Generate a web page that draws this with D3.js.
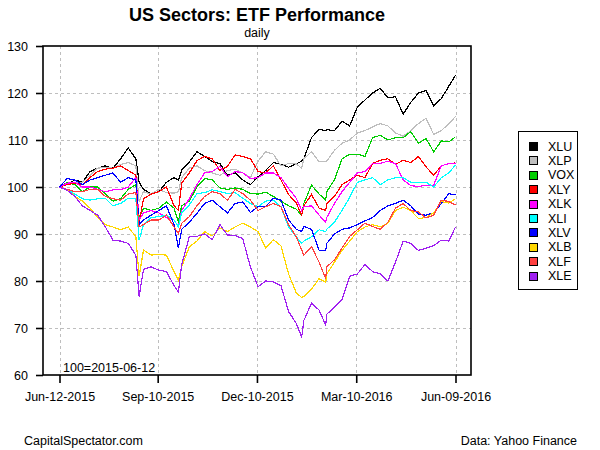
<!DOCTYPE html>
<html><head><meta charset="utf-8">
<script src="https://cdn.jsdelivr.net/npm/d3@7"></script>
<style>body{margin:0;background:#fff;} svg{display:block;font-family:"Liberation Sans",Arial,sans-serif;}</style>
</head><body><svg id="c" width="600" height="450"></svg>
<script>
const dates = ["2015-06-12","2015-06-19","2015-06-26","2015-07-03","2015-07-10","2015-07-17","2015-07-24","2015-07-31","2015-08-07","2015-08-14","2015-08-21","2015-08-24","2015-08-28","2015-09-04","2015-09-11","2015-09-18","2015-09-25","2015-09-29","2015-10-02","2015-10-09","2015-10-16","2015-10-23","2015-10-30","2015-11-06","2015-11-13","2015-11-20","2015-11-27","2015-12-04","2015-12-11","2015-12-18","2015-12-25","2016-01-01","2016-01-08","2016-01-15","2016-01-20","2016-01-22","2016-01-29","2016-02-05","2016-02-11","2016-02-12","2016-02-19","2016-02-26","2016-03-04","2016-03-11","2016-03-18","2016-03-25","2016-04-01","2016-04-08","2016-04-15","2016-04-22","2016-04-29","2016-05-06","2016-05-13","2016-05-20","2016-05-27","2016-06-03","2016-06-09"];

const XLU = [100,100.5,101.5,101,103.3,104,104.5,104,106,108.3,106, 101, 99.5,98.5,99,101,102, 101.5, 103.6,105.3,107.5,106.5,105.4,105,102.5,103,101.5,100.5,102.2,103.5,105.2,104.8,104.2,104.9, 105.5, 106,110.5,112.3, 112, 112.2,112,114,113,117,118.5,120,121,119,119.2,115.5,118,120,120.5,117.3,118.8,121.5,123.8];
const XLP = [100,100.5,101,101,102.5,104,104.2,104,104.8,105.2,104.5, 97, 99,98.5,99.5,98.8,98.7, 99, 102,104,104.5,103.5,103,102.5,103.5,103.8,103,102,105.5,107.5,107,104.5,105,104.9, 104, 106,107.5,105.4, 105.4, 105.5,107.8,109.3,110,111.5,112,112.8,113.5,113,111.5,110.8,112,113.5,114.6,111.2,112,113.5,115];
const VOX = [100,101,100.5,99,100,100,98.5,97,97.5,99.5,100.5, 93.5, 95.5,95,95.5,96.8,95.5, 92.6, 96,97,100,101.8,101.5,99.8,99.5,99.8,99.5,98.6,98.5,98.9,98,97,96,95.3, 94, 96.5,100.4,98.5, 97.2, 99,101.5,106,107,107,106.5,110.5,111,110,110.5,110.5,111.8,109.3,110.3,107.5,109.8,109.6,110.7];
const XLY = [100,100.5,100.8,100.5,102,103.3,103.8,104,104.5,103.5,102.5, 92.5, 97.5,98.5,99,100,96, 95, 100.8,103,105.6,106.5,106,103.5,104.4,106.8,106.5,106,103.3,103,104.5,101.5,98.4,96.6, 94, 96,98.4,95.5, 95, 96.5,98,100.5,101.5,102.5,102,105,105.7,106,104.8,105.7,105.2,106.5,104.3,102.5,104.5,105,105.1];
const XLK = [100,100.8,101,100,100,99.5,99,99.4,99.4,100,102, 93, 94.5,95,94.5,93.5,93, 91.5, 95,97.5,100.5,103,103.3,104.4,102.2,103.3,103,101.8,102,103,103,102,99.7,97.6, 95, 95.8,96,94, 92.5, 93.5,96.5,99,101,103,103.3,105,105,105.5,105,101.5,100.3,100.1,100.4,100.4,104.5,105,105];
const XLI = [100,99.5,98.5,97.5,97.2,97.5,97.6,96,96.5,97.6,97.5, 88.7, 92,93.5,93.7,94,93, 91.5, 94.5,96.2,98.6,98.8,99.4,99,98.6,98.8,97.6,96.5,95.8,97,97.2,95.8,91.5,89.4, 88, 88.5,89.4,90.9, 90.5, 91,92.5,95,97.8,101,101.5,102,100.5,101.5,102,102,101,101,101,100,102,103,104.7];
const XLV = [100,101.8,101.5,100.5,101.5,102,102.5,103,101,102,101.5, 92, 93,94,95,96,92, 87, 91,92.5,94.4,96.5,97.2,95.8,94.5,96.5,96.8,94.6,95.8,95.8,97.6,97.2,93,91, 90.5, 91.6,91,86.5, 86.5, 88,90,91,91.3,92,92.8,93.5,95,96,96.5,97.2,96,94.2,94,94.5,96.5,98.6,98.3];
const XLB = [100,99.5,98,97,95.5,93.5,92,91.5,90.9,91.5,89.4, 81, 86.6,85.5,85.7,85.5,82, 80.2, 83,87.3,88.5,90.5,89.6,91.3,90.5,91.5,92.3,91.5,90.5,87,88.8,87.5,81.5,77.5, 76.5, 76.7,78.3,80.5, 79.7, 81.5,84,86.5,88.5,90.5,91.5,92,91.5,92.3,95,95.7,95,93.3,93.5,94.5,96.9,96.6,97.5];
const XLF = [100,99.5,99,99,99.5,99.5,98,97.5,97.2,98.5,98.8, 91.5, 92,93,93,94,91.5, 90.1, 92.3,93.7,96,98,99,98.6,97.2,99.5,98.6,97.2,95,95.8,96.5,95.8,92,89.4, 86.6, 85.5,87.3,84, 80.5, 83,84.5,87,89.5,90.9,92.3,91.6,91,92.5,95.5,96.5,95,94.7,93.4,94,97.2,96.9,96.2];
const XLE = [100,99.3,98,96,95,94,91.5,88.7,88.5,88,85.5, 76.7, 82.5,83,82.3,82,79, 77.7, 83.5,89.4,89.5,90,88.8,92,89.8,89.7,89,83,78.8,80,79.8,79,73.5,71, 68.1, 71.6,75.3,73.8, 70.6, 72.9,74.5,76,81,81.5,83.5,82,81.5,80,84,88.5,88,86.5,87,87.5,88.7,88.5,91.5];

const seriesNames = ["XLU","XLP","VOX","XLY","XLK","XLI","XLV","XLB","XLF","XLE"];
const seriesValues = [XLU,XLP,VOX,XLY,XLK,XLI,XLV,XLB,XLF,XLE];
const seriesColors = ["#000000","#BEBEBE","#00CD00","#FF0000","#FF00FF","#00FFFF","#0000FF","#FFD700","#FF4040","#A020F0"];

const yTicks = [60,70,80,90,100,110,120,130];
const xTickDates = ["2015-06-12","2015-09-10","2015-12-10","2016-03-10","2016-06-09"];
const xTickLabels = ["Jun-12-2015","Sep-10-2015","Dec-10-2015","Mar-10-2016","Jun-09-2016"];

const svg = d3.select("#c");
const parse = d3.timeParse("%Y-%m-%d");
const L = 43, R = 471, T = 46, B = 375;
const x = d3.scaleTime().domain([parse(dates[0]), parse(dates[dates.length-1])]).range([59.5, 455.5]);
const y = d3.scaleLinear().domain([60,130]).range([B, T]);

// grid
const g = svg.append("g");
g.selectAll(".gy").data(yTicks.filter(v=>v>60&&v<130)).join("line")
  .attr("x1",L).attr("x2",R).attr("y1",d=>Math.round(y(d))+0.5).attr("y2",d=>Math.round(y(d))+0.5)
  .attr("stroke","#BEBEBE").attr("stroke-dasharray","3,3").attr("stroke-width",1);
g.selectAll(".gx").data(xTickDates).join("line")
  .attr("x1",d=>Math.round(x(parse(d)))+0.5).attr("x2",d=>Math.round(x(parse(d)))+0.5).attr("y1",T).attr("y2",B)
  .attr("stroke","#BEBEBE").attr("stroke-dasharray","3,3").attr("stroke-width",1);

// lines
const line = d3.line().x((d,i)=>x(parse(dates[i]))).y(d=>y(d));
seriesValues.forEach((vals,si)=>{
  svg.append("path").datum(vals).attr("d",line).attr("fill","none")
    .attr("stroke",seriesColors[si]).attr("stroke-width",1.2).attr("stroke-linejoin","miter")
    .attr("shape-rendering","crispEdges");
});

// box
svg.append("rect").attr("x",L).attr("y",T).attr("width",R-L).attr("height",B-T)
  .attr("fill","none").attr("stroke","#000").attr("stroke-width",1.6);

// axes
const yAxis = d3.axisLeft(y).tickValues(yTicks).tickSize(7).tickPadding(8);
const ya = svg.append("g").attr("transform",`translate(${L},0)`).call(yAxis);
ya.select(".domain").remove();
ya.selectAll("line").attr("stroke-width",1.6);
ya.selectAll("text").attr("font-size","12.5px").attr("font-family","Liberation Sans, Arial, sans-serif").attr("fill","#000");

const xAxis = d3.axisBottom(x).tickValues(xTickDates.map(parse)).tickFormat((d,i)=>xTickLabels[i]).tickSize(8).tickPadding(9);
const xa = svg.append("g").attr("transform",`translate(0,${B})`).call(xAxis);
xa.select(".domain").remove();
xa.selectAll("line").attr("stroke-width",1.6);
xa.selectAll("text").attr("font-size","12.5px").attr("font-family","Liberation Sans, Arial, sans-serif").attr("fill","#000");

// titles
svg.append("text").attr("x",257).attr("y",21).attr("text-anchor","middle")
  .attr("font-size","18px").attr("font-weight","bold").text("US Sectors: ETF Performance");
svg.append("text").attr("x",257).attr("y",37).attr("text-anchor","middle")
  .attr("font-size","12.5px").text("daily");
svg.append("text").attr("x",63).attr("y",372).attr("font-size","12.5px").text("100=2015-06-12");
svg.append("text").attr("x",24).attr("y",445).attr("font-size","12.5px").text("CapitalSpectator.com");
svg.append("text").attr("x",577).attr("y",445).attr("text-anchor","end").attr("font-size","12.5px").text("Data: Yahoo Finance");

// legend
const lg = svg.append("g");
lg.append("rect").attr("x",518.5).attr("y",131.5).attr("width",59).attr("height",158)
  .attr("fill","#fff").attr("stroke","#000").attr("stroke-width",1);
seriesNames.forEach((n,i)=>{
  const cy = 146 + i*14.4;
  lg.append("rect").attr("x",529.5).attr("y",Math.round(cy-4)+0.5).attr("width",8).attr("height",8)
    .attr("fill",seriesColors[i]).attr("stroke","#000").attr("stroke-width",1);
  lg.append("text").attr("x",548).attr("y",cy+4.5).attr("font-size","12.5px").text(n);
});
</script></body></html>
